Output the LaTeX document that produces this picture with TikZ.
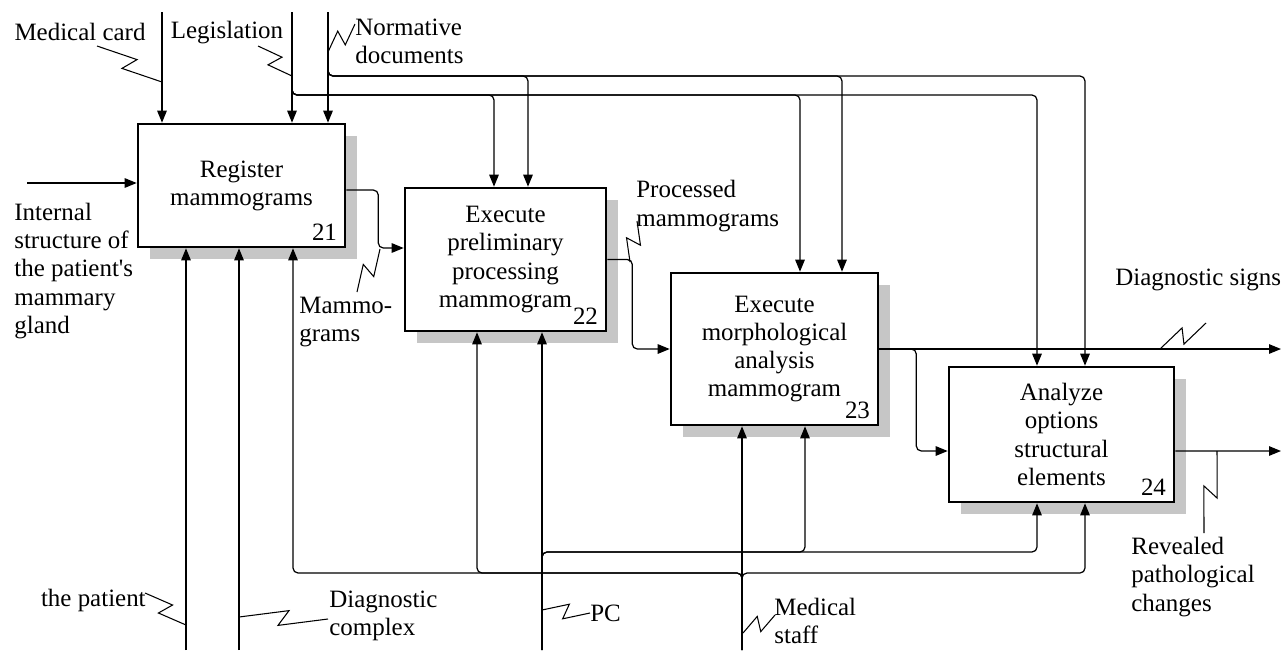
\documentclass[tikz,border=0pt]{standalone}
\usepackage{fontspec}
\setmainfont{Liberation Serif}[Ligatures={TeXOff,CommonOff}]
\usetikzlibrary{arrows.meta,calc,shadows}

\newcommand{\zigline}[2]{\draw[squig] (#1) -- ($(#1)!0.56!(#2)!0.15cm!90:(#2)$) -- ($(#1)!0.44!(#2)!0.15cm!-90:(#2)$) -- (#2);}

\begin{document}
\begin{tikzpicture}[x=0.02cm,y=-0.02cm,font=\fontsize{14.2}{16}\selectfont,
  func/.style={draw,fill=white,line width=1.5pt,align=center,inner sep=0pt,
    drop shadow={shadow xshift=0.24cm,shadow yshift=-0.24cm,fill=gray!45,opacity=1}},
  num/.style={anchor=base east,inner sep=0pt},
  txt/.style={inner sep=0pt,align=left},
  flow/.style={line width=0.7pt,rounded corners=0.1cm,-{Triangle[length=0.24cm,width=0.19cm]}},
  squig/.style={line width=0.6pt}]
\useasboundingbox (0,0) rectangle (1281,650);

% function boxes
\node[func,minimum width=4.14cm,minimum height=2.46cm] (b21) at (241.5,185.5) {Register\\mammograms};
\node[func,minimum width=4.02cm,minimum height=2.86cm] (b22) at (505.5,259.5) {Execute\\preliminary\\processing\\mammogram};
\node[func,minimum width=4.14cm,minimum height=3.04cm] (b23) at (774.5,349) {Execute\\morphological\\analysis\\mammogram};
\node[func,minimum width=4.5cm,minimum height=2.7cm] (b24) at (1061.5,434.5) {Analyze\\options\\structural\\elements};
\node[num] (n21) at ([shift={(-9,-8)}]b21.south east) {21};
\node[num] (n22) at ([shift={(-9,-8)}]b22.south east) {22};
\node[num] (n23) at ([shift={(-9,-8)}]b23.south east) {23};
\node[num] (n24) at ([shift={(-9,-8)}]b24.south east) {24};

% free ends
\coordinate (card) at (162,12);
\coordinate (legis) at (292,12);
\coordinate (norm) at (328,12);
\coordinate (inp) at (27,183);
\coordinate (pat) at (186,650);
\coordinate (dcx) at (239,650);
\coordinate (pc) at (542,650);
\coordinate (staff) at (742,650);
\coordinate (sig) at (1281,349);
\coordinate (rev) at (1281,451);

% controls
\draw[flow] (card) -- (card |- b21.north);
\draw[flow] (legis) -- (legis |- b21.north);
\draw[flow] (norm) -- (norm |- b21.north);
\foreach \x/\b in {494/b22,800/b23,1037/b24}
  \draw[flow] (legis) |- (\x,95) -- (\b.north -| \x,0);
\foreach \x/\b in {528/b22,842/b23,1085/b24}
  \draw[flow] (norm) |- (\x,76) -- (\b.north -| \x,0);

% inputs and outputs
\draw[flow] (inp) -- (inp -| b21.west);
\draw[flow] ($(b21.east)+(0,4.5)$) -- ++(32,0) |- ($(b22.west)+(0,-11.5)$);
\draw[flow] (b22.east) -- ++(25,0) |- (b23.west);
\draw[flow] (b23.east) -- (sig);
\draw[flow] (b23.east) -- ++(37,0) |- ($(b24.west)+(0,16.5)$);
\draw[flow] ($(b24.east)+(0,16.5)$) -- (rev);

% mechanisms
\draw[flow] (pat) -- (pat |- b21.south);
\draw[flow] (dcx) -- (dcx |- b21.south);
\draw[flow] (pc) -- (pc |- b22.south);
\draw[flow] (staff) -- (staff |- b23.south);
\foreach \x/\b in {805/b23,1037/b24}
  \draw[flow] (pc) |- (\x,552) -- (\b.south -| \x,0);
\foreach \x/\b in {293/b21,477/b22,1085/b24}
  \draw[flow] (staff) |- (\x,573) -- (\b.south -| \x,0);

% labels
\node[txt] (tcard) at (80,32) {Medical card};
\node[txt] (tlegis) at (227,33) {Legislation};
\node[txt,anchor=west] (tnorm) at (355,41) {Normative\\documents};
\node[txt,anchor=west] (tinp) at (14,271) {Internal\\structure of\\the patient's\\mammary\\gland};
\node[txt,anchor=west] (tmammo) at (299,322) {Mammo-\\grams};
\node[txt,anchor=west] (tproc) at (636,206) {Processed\\mammograms};
\node[txt,anchor=west] (tsig) at (1115,280) {Diagnostic signs};
\node[txt,anchor=west] (trev) at (1131,577) {Revealed\\pathological\\changes};
\node[txt,anchor=east] (tpat) at (146,600) {the patient};
\node[txt,anchor=west] (tdcx) at (329,616) {Diagnostic\\complex};
\node[txt,anchor=west] (tpc) at (590,613) {PC};
\node[txt,anchor=west] (tstaff) at (774,621) {Medical\\staff};

% squiggles
\coordinate (z1a) at (97,46);    \coordinate (z1b) at (162,82);
\coordinate (z2a) at (258,46);   \coordinate (z2b) at (292,76);
\coordinate (z3a) at (355,24);   \coordinate (z3b) at (328,52);
\coordinate (z4a) at (357,292);  \coordinate (z4b) at (380,249);
\coordinate (z5a) at (637,221);  \coordinate (z5b) at (630,262);
\coordinate (z6a) at (1206,323); \coordinate (z6b) at (1160,349);
\coordinate (z7a) at (1204,533); \coordinate (z7b) at (1217,451);
\coordinate (z8a) at (145,593);  \coordinate (z8b) at (186,625);
\coordinate (z9a) at (328,619);  \coordinate (z9b) at (239,617);
\coordinate (z10a) at (590,613); \coordinate (z10b) at (542,610);
\coordinate (z11a) at (775,615); \coordinate (z11b) at (743,633);
\foreach \i in {1,...,11}
  {\zigline{z\i a}{z\i b}}
\end{tikzpicture}
\end{document}
